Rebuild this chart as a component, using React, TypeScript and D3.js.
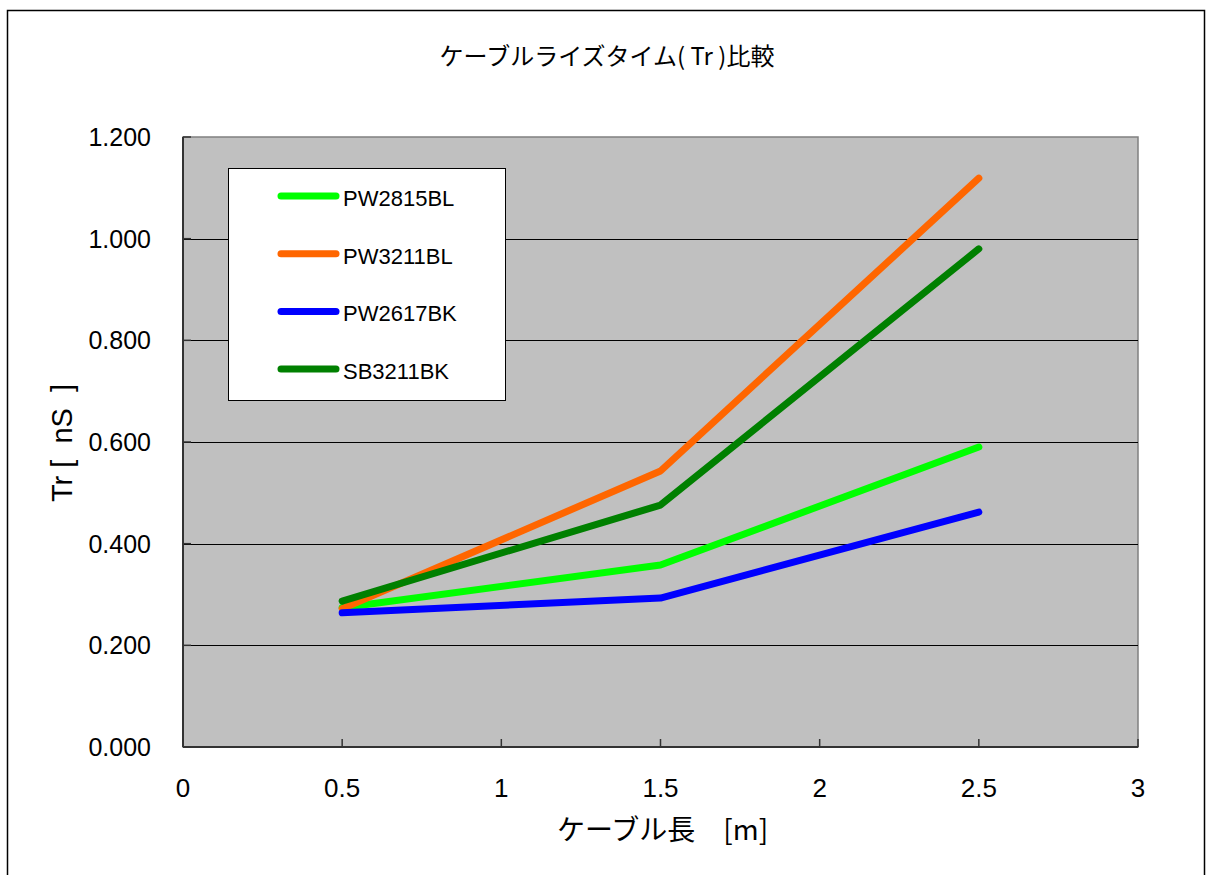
import React from "react";
import * as d3 from "d3";

const xValues = [0.5, 1.5, 2.5];
const seriesNames = ["PW2815BL", "PW3211BL", "PW2617BK", "SB3211BK"];
const seriesColors = ["#00FF00", "#FF6600", "#0000FF", "#008000"];
const pw2815bl = [0.274, 0.358, 0.59];
const pw3211bl = [0.272, 0.543, 1.119];
const pw2617bk = [0.264, 0.293, 0.462];
const sb3211bk = [0.287, 0.476, 0.98];
const seriesValues = [pw2815bl, pw3211bl, pw2617bk, sb3211bk];
const xTicks = [0, 0.5, 1, 1.5, 2, 2.5, 3];
const yTicks = [0, 0.2, 0.4, 0.6, 0.8, 1.0, 1.2];

const W = 1206, H = 875;
const left = 183, right = 1138, top = 137, bottom = 747;

export default function App() {
  const x = d3.scaleLinear().domain([0, 3]).range([left, right]);
  const y = d3.scaleLinear().domain([0, 1.2]).range([bottom, top]);
  const line = d3.line<[number, number]>().x(d => x(d[0])).y(d => y(d[1]));
  const font = "'Liberation Sans', Arial, 'Noto Sans CJK JP', sans-serif";
  const jfont = "'Noto Sans CJK JP', 'Liberation Sans', sans-serif";
  return (
    <svg width={W} height={H} style={{ position: "absolute", left: 0, top: 0, background: "#fff" }}>
      <rect x={7.5} y={10.5} width={1197} height={880} fill="#fff" stroke="#000" strokeWidth={1.5} />
      <text x={607} y={65} textAnchor="middle" fontSize={24} fontFamily={jfont} fill="#000" style={{ whiteSpace: "pre" }}>ケーブルライズタイム( Tr )比較</text>
      <rect x={left} y={top} width={right - left} height={bottom - top} fill="#C0C0C0" stroke="#808080" strokeWidth={1.5} />
      {yTicks.slice(1, -1).map(t => (
        <line key={t} x1={left} x2={right} y1={Math.round(y(t)) + 0.5} y2={Math.round(y(t)) + 0.5} stroke="#000" strokeWidth={1} />
      ))}
      <line x1={left} x2={left} y1={top} y2={bottom} stroke="#333" strokeWidth={2} />
      <line x1={left} x2={right} y1={bottom} y2={bottom} stroke="#333" strokeWidth={2} />
      {yTicks.map(t => (
        <g key={"y" + t}>
          <line x1={left} x2={left + 8} y1={y(t)} y2={y(t)} stroke="#333" strokeWidth={1.5} />
          <text x={151} y={y(t) + 9} textAnchor="end" fontSize={25} fontFamily={font} fill="#000">{d3.format(".3f")(t)}</text>
        </g>
      ))}
      {xTicks.map(t => (
        <g key={"x" + t}>
          <line x1={x(t)} x2={x(t)} y1={bottom} y2={bottom - 8} stroke="#333" strokeWidth={1.5} />
          <text x={x(t)} y={797} textAnchor="middle" fontSize={26} fontFamily={font} fill="#000">{String(t)}</text>
        </g>
      ))}
      {seriesValues.map((vals, i) => (
        <path key={seriesNames[i]} d={line(xValues.map((xv, j) => [xv, vals[j]]) as [number, number][]) || ""}
          fill="none" stroke={seriesColors[i]} strokeWidth={7} strokeLinecap="round" strokeLinejoin="round" />
      ))}
      <rect x={228.5} y={168.5} width={277} height={232} fill="#fff" stroke="#000" strokeWidth={1} />
      {seriesNames.map((n, i) => (
        <g key={"l" + n}>
          <line x1={281} x2={336} y1={196 + i * 57.7} y2={196 + i * 57.7} stroke={seriesColors[i]} strokeWidth={7} strokeLinecap="round" />
          <text x={343} y={196 + i * 57.7 + 10} fontSize={22} fontFamily={font} fill="#000">{n}</text>
        </g>
      ))}
      <text x={557} y={840} fontSize={28} fontFamily={jfont} fill="#000" style={{ whiteSpace: "pre" }}>ケーブル長　[m]</text>
      <text transform={`translate(72,443) rotate(-90)`} textAnchor="middle" fontSize={29} fontFamily={font} fill="#000" style={{ whiteSpace: "pre" }}>Tr [  nS  ]</text>
    </svg>
  );
}
